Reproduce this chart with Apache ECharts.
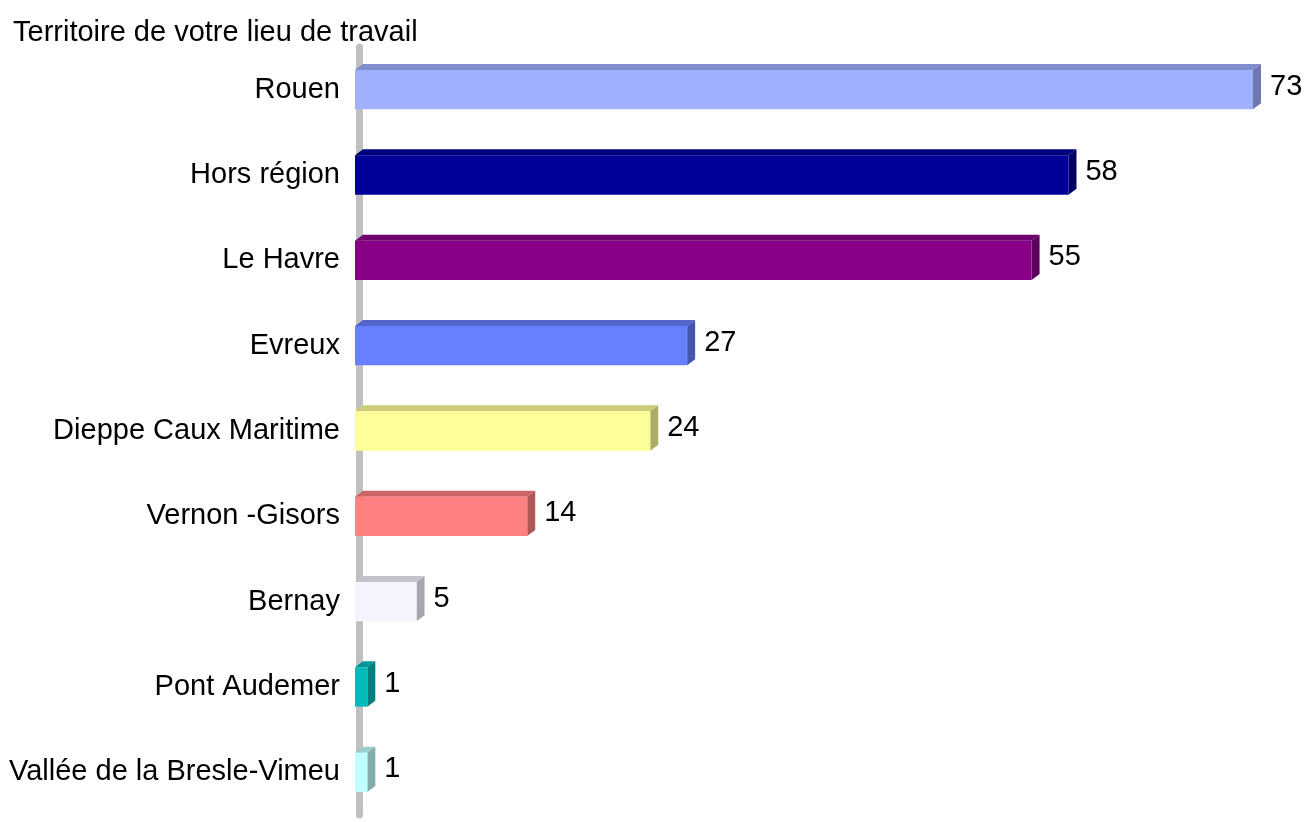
<!DOCTYPE html>
<html>
<head>
<meta charset="utf-8">
<title>Territoire de votre lieu de travail</title>
<script src="https://cdn.jsdelivr.net/npm/echarts@6/dist/echarts.min.js"></script>
<style>
  html, body { margin: 0; padding: 0; background: #fff; }
  #chart { width: 1306px; height: 822px; }
</style>
</head>
<body>
<div id="chart"></div>
<script>
const categories = ['Rouen', 'Hors région', 'Le Havre', 'Evreux', 'Dieppe Caux Maritime',
  'Vernon -Gisors', 'Bernay', 'Pont Audemer', 'Vallée de la Bresle-Vimeu']
const values = [73, 58, 55, 27, 24, 14, 5, 1, 1]
const barColors = ['#a0b0ff', '#000099', '#880088', '#6680ff', '#ffff99',
  '#ff8080', '#f4f4ff', '#00bbbb', '#c0ffff']

const font = 'Arial, "Liberation Sans", sans-serif'
const depthX = 8
const depthY = 6

const chart = echarts.init(document.getElementById('chart'))

// assombrit une couleur hex
function shade(hex, k) {
  const n = parseInt(hex.slice(1), 16)
  const r = Math.round(((n >> 16) & 255) * k)
  const g = Math.round(((n >> 8) & 255) * k)
  const b = Math.round((n & 255) * k)
  return 'rgb(' + r + ',' + g + ',' + b + ')'
}

// bar en faux 3D : face avant, dessus et côté
function renderBar(params, api) {
  const idx = params.dataIndex
  const start = api.coord([0, api.value(1)])
  const end = api.coord([api.value(0), api.value(1)])
  const bandH = api.size([0, 1])[1]
  const h = bandH * 0.46
  const x0 = start[0]
  const x1 = end[0]
  const y0 = start[1] - h / 2
  const y1 = y0 + h
  const c = barColors[idx]
  return {
    type: 'group',
    children: [
      {
        type: 'polygon',
        shape: { points: [[x0, y0], [x1, y0], [x1 + depthX, y0 - depthY], [x0 + depthX, y0 - depthY]] },
        style: { fill: shade(c, 0.8) }
      },
      {
        type: 'polygon',
        shape: { points: [[x1, y0], [x1 + depthX, y0 - depthY], [x1 + depthX, y1 - depthY], [x1, y1]] },
        style: { fill: shade(c, 0.68) }
      },
      {
        type: 'rect',
        shape: { x: x0, y: y0, width: x1 - x0, height: h },
        style: { fill: c }
      },
      {
        type: 'text',
        x: x1 + depthX + 9,
        y: start[1] - 3,
        style: {
          text: String(api.value(0)),
          fill: '#000',
          font: '29px ' + font,
          verticalAlign: 'middle'
        }
      }
    ]
  }
}

const options = {
  backgroundColor: '#fff',
  animation: false,
  title: {
    text: 'Territoire de votre lieu de travail',
    left: 8,
    top: 13,
    textStyle: { fontSize: 29, fontWeight: 'normal', color: '#000', fontFamily: font }
  },
  grid: { left: 355, right: 53, top: 47, bottom: 7, containLabel: false },
  xAxis: {
    type: 'value',
    min: 0,
    max: 73,
    show: false
  },
  yAxis: {
    type: 'category',
    data: categories,
    inverse: true,
    offset: -4,
    axisTick: { show: false },
    axisLine: { lineStyle: { color: '#c0c0c0', width: 7 } },
    axisLabel: { fontSize: 29, color: '#000', fontFamily: font, margin: 19 }
  },
  series: [{
    type: 'custom',
    renderItem: renderBar,
    encode: { x: 0, y: 1 },
    data: values.map((v, i) => [v, i])
  }]
}

chart.setOption(options)
</script>
</body>
</html>
